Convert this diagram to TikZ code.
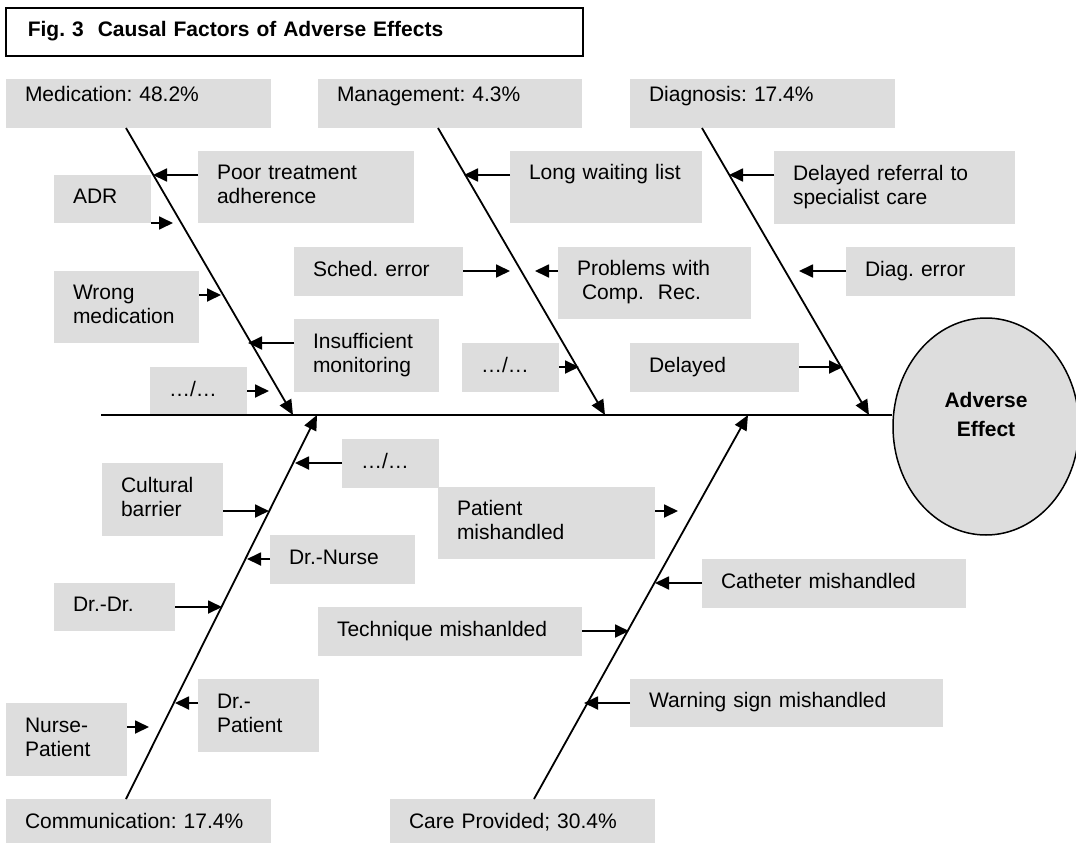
\documentclass[tikz,border=0pt]{standalone}
\usepackage{fontspec}
\setmainfont{Liberation Sans}
\usetikzlibrary{arrows.meta,shapes.geometric}
\definecolor{boxgray}{RGB}{221,221,221}
\tikzset{
  cause/.style 2 args={fill=boxgray, anchor=north west, inner xsep=19pt, inner ysep=0pt,
    outer sep=0pt, text width=#1-38, minimum height=#2, align=left,
    font=\fontsize{21}{24}\selectfont,
    execute at begin node=\strut, execute at end node=\strut},
  head/.style={text height=17pt, text depth=21pt},
  bone/.style={line width=1.8pt, -{Triangle[length=15pt,width=13pt]}},
  twig/.style={line width=1.8pt, -{Triangle[length=14pt,width=13pt]}},
}
\frenchspacing
\begin{document}
\begin{tikzpicture}[x=1pt, y=-1pt]
  \useasboundingbox (0,0) rectangle (1076,843);
  \node[draw, line width=1.6pt, anchor=north west, inner xsep=22pt, inner ysep=0pt,
    text width=533pt, minimum height=48pt, align=left,
    font=\bfseries\fontsize{21}{24}\selectfont, execute at begin node=\strut]
    (title) at (5,7) {Fig. 3\ \ Causal Factors of Adverse Effects};

  \node[cause={265}{49}, head] (med) at (6,79) {Medication: 48.2\%};
  \node[cause={264}{49}, head] (man) at (318,79) {Management: 4.3\%};
  \node[cause={265}{49}, head] (dia) at (630,79) {Diagnosis: 17.4\%};
  \node[cause={265}{49}] (com) at (6,799) {\mbox{Communication: 17.4\%}};
  \node[cause={265}{49}] (care) at (390,799) {\mbox{Care Provided; 30.4\%}};

  \node[cause={216}{72}] (poor) at (198,151) {Poor treatment\\adherence};
  \node[cause={97}{48}] (adr) at (54,175) {ADR};
  \node[cause={145}{72}] (wrong) at (54,271) {Wrong\\medication};
  \node[cause={145}{73}] (insuf) at (294,319) {Insufficient\\monitoring};
  \node[cause={97}{49}] (meddots) at (150,367) {…/…};

  \node[cause={192}{72}] (long) at (510,151) {Long waiting list\\\mbox{}};
  \node[cause={169}{49}] (sched) at (294,247) {Sched. error};
  \node[cause={193}{72}] (prob) at (558,247) {Problems with\\\hspace*{5pt}Comp.\ \ Rec.};
  \node[cause={97}{49}] (mandots) at (462,343) {…/…};

  \node[cause={241}{73}] (delref) at (774,151) {Delayed referral to\\specialist care};
  \node[cause={169}{49}] (diagerr) at (846,247) {Diag. error};
  \node[cause={169}{49}] (delayed) at (630,343) {Delayed};

  \node[cause={97}{49}] (comdots) at (342,439) {…/…};
  \node[cause={121}{73}] (cult) at (102,463) {Cultural\\barrier};
  \node[cause={145}{49}] (drnurse) at (270,535) {Dr.-Nurse};
  \node[cause={121}{48}] (drdr) at (54,583) {Dr.-Dr.};
  \node[cause={121}{73}] (drpat) at (198,679) {Dr.-\\Patient};
  \node[cause={121}{73}] (nursepat) at (6,703) {Nurse-\\Patient};

  \node[cause={217}{72}] (patient) at (438,487) {Patient\\mishandled};
  \node[cause={264}{49}] (cath) at (702,559) {Catheter mishandled};
  \node[cause={264}{49}] (tech) at (318,607) {Technique mishanlded};
  \node[cause={313}{48}] (warn) at (630,679) {Warning sign mishandled};

  \node[ellipse, draw, line width=1.5pt, fill=boxgray, minimum width=186pt,
    minimum height=217pt, inner sep=0pt, text width=90pt, align=center,
    font=\bfseries\fontsize{21}{29}\selectfont, text height=15pt, text depth=54pt]
    (effect) at (986,426.5) {Adverse\\Effect};

  \coordinate (tail) at (101,415);
  \coordinate (medend) at (293,415);
  \coordinate (manend) at (605,415);
  \coordinate (diaend) at (869,415);
  \coordinate (comend) at (317,415);
  \coordinate (careend) at (748,415);
  \draw[line width=2.2pt] (tail) -- (tail -| effect.west);

  \draw[bone] ([xshift=120pt]med.south west) -- (medend);
  \draw[bone] ([xshift=120pt]man.south west) -- (manend);
  \draw[bone] ([xshift=72pt]dia.south west) -- (diaend);
  \draw[bone] ([xshift=120pt]com.north west) -- (comend);
  \draw[bone] ([xshift=144pt]care.north west) -- (careend);

  \coordinate (poortip) at (153,175);
  \coordinate (adrtip) at (173,223);
  \coordinate (wrongtip) at (221,295);
  \coordinate (insuftip) at (248,343);
  \coordinate (meddotstip) at (269,391);
  \coordinate (longtip) at (464,175);
  \coordinate (schedtip) at (510,271);
  \coordinate (probtip) at (535,271);
  \coordinate (mandotstip) at (579,367);
  \coordinate (delreftip) at (729,175);
  \coordinate (diagerrtip) at (799,271);
  \coordinate (delayedtip) at (843,367);
  \coordinate (comdotstip) at (295,463);
  \coordinate (culttip) at (269,511);
  \coordinate (drnursetip) at (247,559);
  \coordinate (drdrtip) at (222,607);
  \coordinate (drpattip) at (175,703);
  \coordinate (nursepattip) at (149,727);
  \coordinate (patienttip) at (678,511);
  \coordinate (cathtip) at (655,583);
  \coordinate (techtip) at (629,631);
  \coordinate (warntip) at (584,703);

  \draw[twig] (poor.west |- poortip) -- (poortip);
  \draw[twig] (adr.east |- adrtip) -- (adrtip);
  \draw[twig] (wrong.east |- wrongtip) -- (wrongtip);
  \draw[twig] (insuf.west |- insuftip) -- (insuftip);
  \draw[twig] (meddots.east |- meddotstip) -- (meddotstip);
  \draw[twig] (long.west |- longtip) -- (longtip);
  \draw[twig] (sched.east |- schedtip) -- (schedtip);
  \draw[twig] (prob.west |- probtip) -- (probtip);
  \draw[twig] (mandots.east |- mandotstip) -- (mandotstip);
  \draw[twig] (delref.west |- delreftip) -- (delreftip);
  \draw[twig] (diagerr.west |- diagerrtip) -- (diagerrtip);
  \draw[twig] (delayed.east |- delayedtip) -- (delayedtip);
  \draw[twig] (comdots.west |- comdotstip) -- (comdotstip);
  \draw[twig] (cult.east |- culttip) -- (culttip);
  \draw[twig] (drnurse.west |- drnursetip) -- (drnursetip);
  \draw[twig] (drdr.east |- drdrtip) -- (drdrtip);
  \draw[twig] (drpat.west |- drpattip) -- (drpattip);
  \draw[twig] (nursepat.east |- nursepattip) -- (nursepattip);
  \draw[twig] (patient.east |- patienttip) -- (patienttip);
  \draw[twig] (cath.west |- cathtip) -- (cathtip);
  \draw[twig] (tech.east |- techtip) -- (techtip);
  \draw[twig] (warn.west |- warntip) -- (warntip);
\end{tikzpicture}
\end{document}
